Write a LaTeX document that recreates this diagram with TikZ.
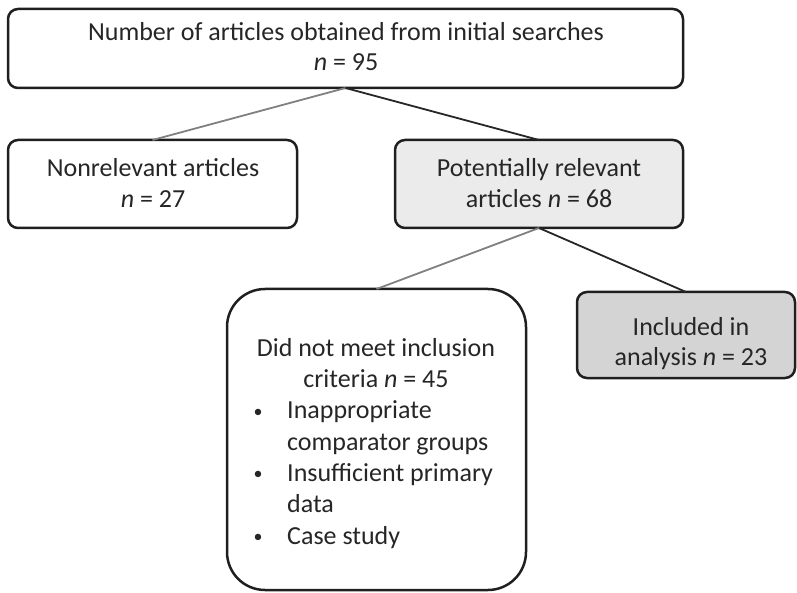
\documentclass[tikz,border=0pt]{standalone}
\usepackage{fontspec}
\setmainfont{Carlito}
\begin{document}
\begin{tikzpicture}[x=1pt,y=-1pt,
  box/.style={draw=black!88, line width=2.5pt, rounded corners=10pt, minimum width=#1, outer sep=0pt, inner sep=0pt},
  lbl/.style={anchor=base, text=black!85, font=\fontsize{26}{30}\selectfont, inner sep=0pt},
  lbll/.style={anchor=base west, text=black!85, font=\fontsize{26}{30}\selectfont, inner sep=0pt},
  bul/.style={anchor=base, text=black!85, font=\fontsize{18}{20}\selectfont, inner sep=0pt},
  greyline/.style={draw=black!50, line width=1.8pt},
  darkline/.style={draw=black!85, line width=1.8pt}]
\useasboundingbox (0,0) rectangle (797,593);
% boxes
\node[box=675pt, minimum height=79pt] (top) at (345.5,48.5) {};
\node[box=289pt, minimum height=88pt] (nonrel) at (152.5,184) {};
\node[box=288pt, minimum height=88pt, fill=black!8] (pot) at (539,184) {};
\node[box=299pt, minimum height=301pt, rounded corners=38pt] (dnm) at (376.5,439.5) {};
\node[box=218pt, minimum height=86pt, fill=black!17] (inc) at (686,335) {};
% connectors
\draw[greyline] (top.south) -- (nonrel.north);
\draw[darkline] (top.south) -- (pot.north);
\draw[greyline] (pot.south) -- (dnm.north);
\draw[darkline] (pot.south) -- (inc.north);
% texts
\node[lbl] (t1) at (346,41) {Number of articles obtained from initial searches};
\node[lbl] (t2) at (346,71) {\textit{n} = 95};
\node[lbl] (n1) at (153,177) {Nonrelevant articles};
\node[lbl] (n2) at (153,208) {\textit{n} = 27};
\node[lbl] (p1) at (539,177) {Potentially relevant};
\node[lbl] (p2) at (539,208) {articles \textit{n} = 68};
\node[lbl] (i1) at (691,335) {Included in};
\node[lbl] (i2) at (691,365) {analysis \textit{n} = 23};
\node[lbl] (d1) at (376,356) {Did not meet inclusion};
\node[lbl] (d2) at (376,387) {criteria \textit{n} = 45};
\node[bul] (b1) at (258,417) {•};
\node[lbll] (e1) at (287,418.5) {Inappropriate};
\node[lbll] (e2) at (287,450) {comparator groups};
\node[bul] (b2) at (258,479.5) {•};
\node[lbll] (e3) at (287,481) {Insufficient primary};
\node[lbll] (e4) at (287,512.5) {data};
\node[bul] (b3) at (258,542.5) {•};
\node[lbll] (e5) at (287,544) {Case study};
\end{tikzpicture}
\end{document}
